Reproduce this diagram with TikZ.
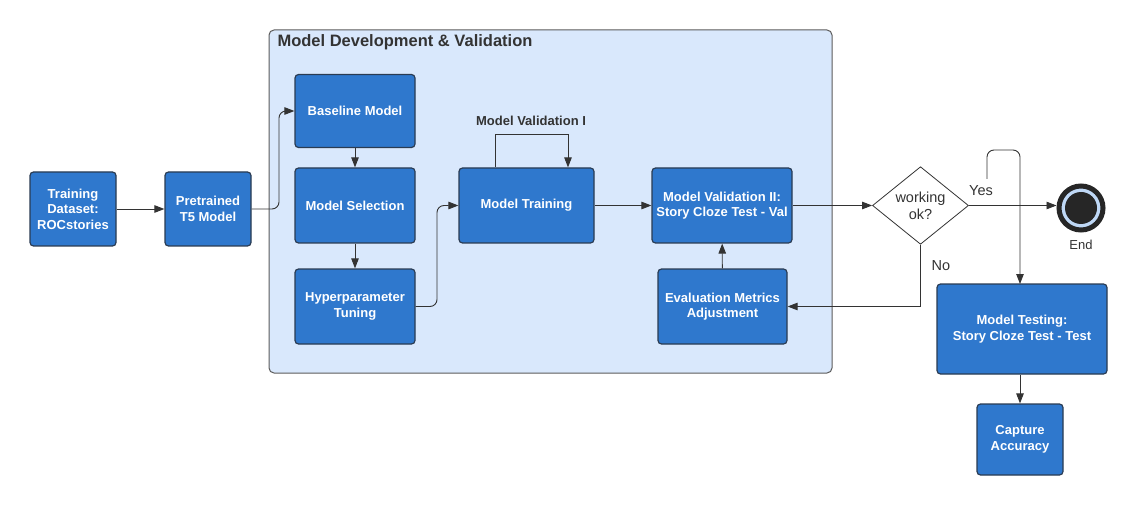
\documentclass[tikz,border=0pt]{standalone}
\usepackage{fontspec}
\setmainfont{Liberation Sans}
\usetikzlibrary{arrows.meta,shapes.geometric}
\definecolor{boxblue}{HTML}{2F78CD}
\definecolor{boxedge}{HTML}{2A3B52}
\definecolor{panel}{HTML}{D9E8FC}
\definecolor{ink}{HTML}{333333}
\definecolor{ring}{HTML}{BFD8F6}
\tikzset{
  flowbox/.style={draw=boxedge, line width=1.2pt, fill=boxblue, rounded corners=3.5pt,
    text=white, font=\fontsize{13}{15.5}\selectfont\bfseries, align=center, inner sep=0pt},
  conn/.style={draw=ink, line width=0.9pt, -{Triangle[length=10pt,width=7.5pt]}},
}
\begin{document}
\begin{tikzpicture}[x=1pt,y=-1pt]
\useasboundingbox (0,0) rectangle (1138,505);
\fill[white] (0,0) rectangle (1138,505);
% container
\draw[draw=ink!80, line width=1pt, fill=panel, rounded corners=5pt] (269,30) rectangle (832,373);
\node[anchor=west, text=ink, font=\fontsize{16.5}{19}\selectfont\bfseries] (title) at (274,42) {Model Development \& Validation};

\node[flowbox, minimum width=86pt, minimum height=74pt] (train) at (73,209) {Training\\Dataset:\\ROCstories};
\node[flowbox, minimum width=86pt, minimum height=74pt] (pre) at (208,209) {Pretrained\\T5 Model};
\node[flowbox, minimum width=120pt, minimum height=73pt] (base) at (355,111) {Baseline Model};
\node[flowbox, minimum width=120pt, minimum height=75pt] (sel) at (355,205.5) {Model Selection};
\node[flowbox, minimum width=120pt, minimum height=75pt] (hyp) at (355,306.5) {Hyperparameter\\Tuning};
\node[flowbox, minimum width=135pt, minimum height=75pt] (mt) at (526.5,205.5) {Model Training};
\node[flowbox, minimum width=140pt, minimum height=75pt] (mv) at (722,205.5) {Model Validation II:\\Story Cloze Test - Val};
\node[flowbox, minimum width=129pt, minimum height=75pt] (eval) at (722.5,306.5) {Evaluation Metrics\\Adjustment};
\node[flowbox, minimum width=170pt, minimum height=90pt] (test) at (1022,329) {Model Testing:\\ Story Cloze Test - Test};
\node[flowbox, minimum width=86pt, minimum height=71pt] (cap) at (1020,439.5) {Capture\\Accuracy};

\node[text=ink, font=\fontsize{13}{15.5}\selectfont\bfseries] (mvlab) at (531,121) {Model Validation I};

\node[diamond, draw=ink, line width=0.8pt, fill=white, minimum width=96pt, minimum height=72pt, inner sep=0pt,
  align=center, font=\fontsize{14.5}{17}\selectfont, text=ink] (dec) at (920.5,205.5) {working\\ok?};

\node[circle, draw=black!85, line width=5pt, fill=ring, minimum size=44pt, inner sep=0pt] (endc) at (1081,208) {};
\fill[black!85] (endc.center) circle (16pt);
\node[text=ink, font=\fontsize{13}{15.5}\selectfont] (endlab) at (1081,245) {End};

\node[text=ink, font=\fontsize{14.5}{17}\selectfont] (yes) at (981,191) {Yes};
\node[text=ink, font=\fontsize{14.5}{17}\selectfont] (no) at (941,266) {No};

% connectors
\draw[conn] (train) -- (pre);
\draw[conn, rounded corners=7pt] (pre.east) -- (279,209) -- (279,111) -- (base.west);
\draw[conn] (base) -- (sel);
\draw[conn] (sel) -- (hyp);
\draw[conn, rounded corners=7pt] (hyp.east) -- (437,306.5) -- (437,205.5) -- (mt.west);
\draw[conn] ([xshift=-31.5pt]mt.north) -- ++(0,-33) -| ([xshift=41.5pt]mt.north);
\draw[conn] (mt) -- (mv);
\draw[conn] (mv.east) -- (dec.west);
\draw[conn] (eval) -- (mv);
\draw[conn] (dec.south) |- (eval.east);
\draw[conn] (dec.east) -- (dec.east -| endc.west);
\coordinate (free) at (987,179);
\draw[conn, rounded corners=7pt] (free) -- (987,150) -- (1020,150) -- (1020,284);
\draw[conn] (test.south -| cap.north) -- (cap.north);
\end{tikzpicture}
\end{document}
